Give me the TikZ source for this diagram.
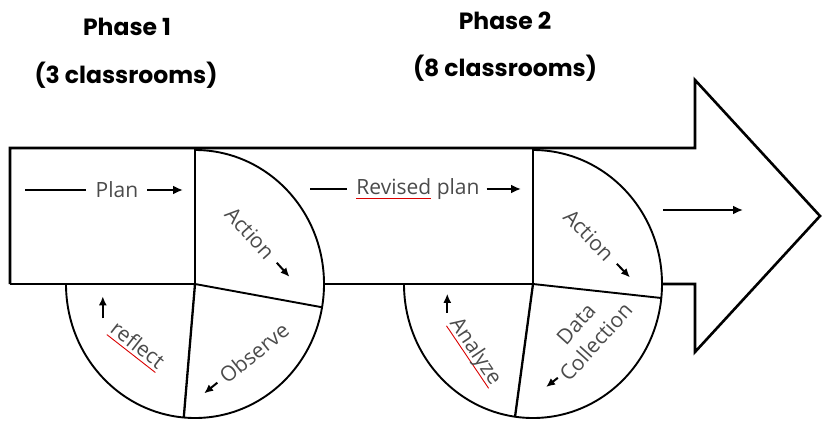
\documentclass[tikz,border=0pt]{standalone}
\usepackage{fontspec}
\setmainfont{Open Sans}
\newfontfamily\headfont{Poppins}
\usetikzlibrary{arrows.meta, calc, positioning}
\definecolor{txtgray}{RGB}{75,75,75}
\newcommand{\redline}[1]{\setbox0\hbox{#1}\rlap{\color{red!85!black}\rule[-4pt]{\wd0}{0.9pt}}\box0\relax}

\begin{document}
\begin{tikzpicture}[x=1pt, y=1pt, >={Latex[length=10pt,width=9pt]},
  outline/.style={line width=2.6pt, line join=miter},
  part/.style={line width=1.9pt},
  lbl/.style={text=txtgray, font=\fontsize{21}{27}\selectfont, inner sep=1pt},
  head/.style={font=\headfont\bfseries\fontsize{23.5}{26}\selectfont},
  flow/.style={line width=2.6pt},
  tip/.style={line width=2pt, -{Latex[length=9pt,width=8pt]}}]

  \useasboundingbox (0,0) rectangle (822,421);

  \draw[outline] (10,137) -- (10,273) -- (695,273) -- (695,341) -- (820,205) -- (695,69) -- (695,137) -- (661,137);
  \draw[outline] (10,137) -- (195,137);
  \draw[outline] (324,137) -- (533,137);

  \foreach \c/\x/\a/\b in {c1/195/-10/-95, c2/533/-6/-98} {
    \coordinate (\c) at (\x,137);
    \draw[outline] (\x,273) -- (\c);
    \draw[part] (\c) -- ($(\c)+(\a:129 and 134)$);
    \draw[part, line width=2.3pt] (\c) -- ($(\c)+(\b:129 and 134)$);
    \draw[part] ($(\c)+(90:129 and 134)$) arc[start angle=90, end angle=-180, x radius=129, y radius=134];
  }

  \node[head] (ph1) at (127,394) {Phase 1};
  \node[head] (cl1) at (126,346) {(3 classrooms)};
  \node[head] (ph2) at (505,400) {Phase 2};
  \node[head] (cl2) at (505,353) {(8 classrooms)};

  \node[lbl] (plan) at (117,231) {Plan};
  \coordinate (planL) at (25,231);
  \coordinate (planR) at (183,231);
  \draw[flow] (planL) -- ([xshift=-9pt]plan.west);
  \draw[flow, ->] ([xshift=8pt]plan.east) -- (planR);

  \node[lbl] (rev) at (418,232) {\redline{Revised} plan};
  \coordinate (revL) at (310,232);
  \coordinate (revR) at (521,232);
  \draw[flow] (revL) -- ([xshift=-8pt]rev.west);
  \draw[flow, ->] ([xshift=6pt]rev.east) -- (revR);

  \node[lbl, rotate=-48] (act1) at (250,188) {Action};
  \draw[tip] (act1.east) ++(-48:8) -- ++(-48:19);
  \node[lbl, rotate=39] (obs) at (254,68) {Observe};
  \draw[tip] (obs.west) ++(219:5) -- ++(219:17);
  \node[lbl, rotate=-38] (refl) at (137,75) {\redline{reflect}};
  \draw[tip] (refl.west) ++(-9,8) -- ++(0,22);

  \node[lbl, rotate=-46] (act2) at (589,186) {Action};
  \draw[tip] (act2.east) ++(-46:8) -- ++(-46:19);
  \node[lbl, rotate=-56] (ana) at (475,69) {\redline{Analyze}};
  \draw[tip] (ana.west) ++(-6,7) -- ++(0,19);
  \node[lbl, rotate=48, align=center] (dat) at (586,88) {Data\\Collection};
  \draw[tip] (dat.west) ++(5,-8) -- ++(218:15);

  \coordinate (headL) at (663,211);
  \coordinate (headR) at (743,211);
  \draw[flow, ->] (headL) -- (headR);

\end{tikzpicture}
\end{document}
